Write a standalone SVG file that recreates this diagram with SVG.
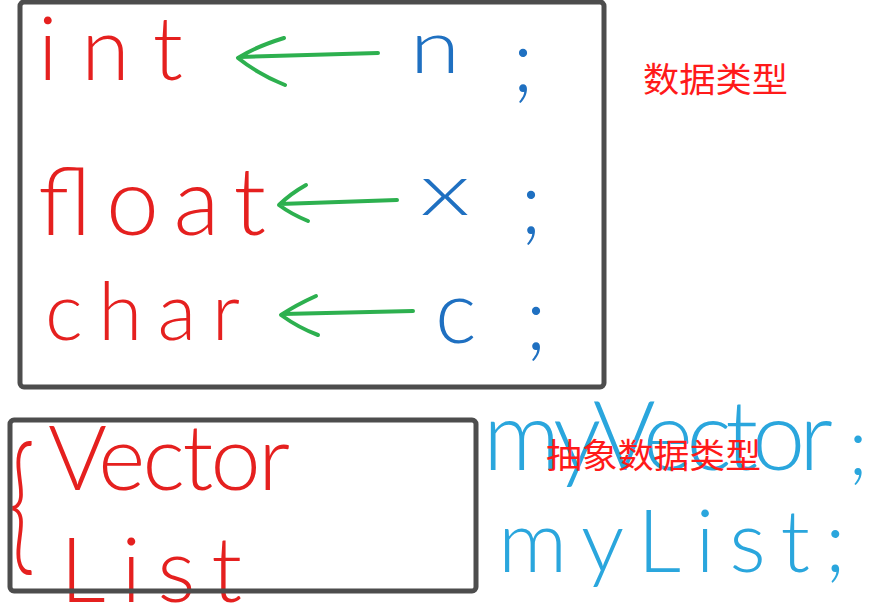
<svg xmlns="http://www.w3.org/2000/svg" width="884" height="612" viewBox="0 0 884 612">
<style>
.hw{font-family:Lato,"Open Sans","DejaVu Sans",sans-serif;font-weight:300}
.red{fill:#e5201f}
.blue{fill:#1f70c1}
.lblue{fill:#2aa6dd}
.cn{font-family:"Noto Sans CJK SC","Noto Sans",sans-serif;fill:#ff1a1a;font-size:34px}
.box{fill:none;stroke:#4d4d4d;stroke-width:5;rx:4}
.arr{fill:none;stroke:#2db04f;stroke-width:4;stroke-linecap:round;stroke-linejoin:round}
</style>
<rect width="884" height="612" fill="#ffffff"/>
<g id="primitive-types">
<text class="hw red" x="38" y="80" font-size="88" textLength="145" lengthAdjust="spacing">int</text>
<text class="hw red" x="38" y="235" font-size="95" textLength="228" lengthAdjust="spacing">float</text>
<text class="hw red" x="45" y="340" font-size="80" textLength="195" lengthAdjust="spacing">char</text>
</g>
<g id="variables">
<text class="hw blue" x="410" y="73" font-size="74" textLength="50" lengthAdjust="spacingAndGlyphs">n</text>
<text class="hw blue" x="420" y="215" font-size="72" textLength="50" lengthAdjust="spacingAndGlyphs">x</text>
<text class="hw blue" x="435" y="343" font-size="88">c</text>
<text class="hw blue" x="512" y="92" font-size="88">;</text>
<text class="hw blue" x="520" y="234" font-size="88">;</text>
<text class="hw blue" x="525" y="350" font-size="88">;</text>
</g>
<g id="connectors">
<path class="arr" d="M378,53 L240,57 M284,38 Q255,47 238,58 Q258,74 285,85"/>
<path class="arr" d="M397,200 L280,204 M306,185 Q290,194 279,205 Q291,214 308,221"/>
<path class="arr" d="M413,311 L283,314 M316,296 Q296,305 281,315 Q299,328 318,335"/>
</g>
<g id="label-data-types">
<text class="cn" x="643" y="92" textLength="145" lengthAdjust="spacingAndGlyphs">数据类型</text>
</g>
<g id="abstract-types">
<text class="hw red" x="4" y="555" font-size="150" transform="translate(6,0) scale(0.6,1)">{</text>
<text class="hw red" x="48" y="490" font-size="90" textLength="242" lengthAdjust="spacing">Vector</text>
<text class="hw red" x="60" y="602" font-size="90" textLength="182" lengthAdjust="spacing">List</text>
</g>
<g id="abstract-vars">
<text class="hw lblue" x="483" y="470" font-size="96" textLength="350" lengthAdjust="spacing">myVector</text>
<text class="hw lblue" x="848" y="475" font-size="80">;</text>
<text class="hw lblue" x="498" y="572" font-size="86" textLength="348" lengthAdjust="spacing">myList;</text>
</g>
<g id="box-primitive"><rect class="box" x="20" y="2" width="584" height="385"/></g>
<g id="box-abstract"><rect class="box" x="10" y="420" width="466" height="171"/></g>
<g id="label-abstract-data-types">
<text class="cn" x="546" y="468" textLength="215" lengthAdjust="spacingAndGlyphs">抽象数据类型</text>
</g>
</svg>
